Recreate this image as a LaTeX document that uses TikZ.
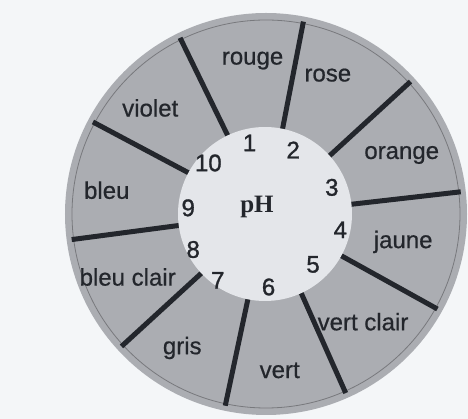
\documentclass[tikz,border=0pt]{standalone}
\usepackage{fontspec}
\setmainfont{Liberation Serif}
\setsansfont{Liberation Sans}
\newfontfamily\numfont[FakeBold=1.2]{Liberation Sans}
\newfontfamily\labfont[FakeBold=0.6]{Liberation Sans}
\usepackage{xcolor}
\usepackage{tikz}
\definecolor{ringgray}{HTML}{ABADB2}
\definecolor{discgray}{HTML}{E4E6EA}
\definecolor{papergray}{HTML}{F4F6F8}
\definecolor{inkdark}{HTML}{23262C}

\begin{document}
\begin{tikzpicture}[x=1pt, y=1pt,
    colour/.style={font=\labfont\fontsize{24}{28}\selectfont, text=inkdark,
                   inner sep=0pt},
    num/.style={font=\numfont\fontsize{24}{28}\selectfont, text=inkdark,
                inner sep=0pt},
    spoke/.style={line width=5pt, inkdark},
]
    \useasboundingbox[fill=papergray] (-266,-205) rectangle (202,214);

    % Ring
    \fill[ringgray] (0,0) circle[radius=201];
    \draw[ringgray!70!black, line width=0.8pt] (0,0) circle[radius=194];

    % Spokes
    \draw[spoke] (79:80) -- (79:196);
    \draw[spoke] (42.5:80) -- (42.5:196);
    \draw[spoke] (6.5:80) -- (6.5:196);
    \draw[spoke] (-29:80) -- (-29:196);
    \draw[spoke] (-66:80) -- (-66:196);
    \draw[spoke] (-102:80) -- (-102:196);
    \draw[spoke] (-137.5:80) -- (-137.5:196);
    \draw[spoke] (-172.5:80) -- (-172.5:196);
    \draw[spoke] (152:80) -- (152:196);
    \draw[spoke] (116:80) -- (116:196);

    % Disc
    \fill[discgray] (-1,0) circle[radius=87];
    \node[font=\rmfamily\bfseries\fontsize{25}{28}\selectfont, text=inkdark,
          inner sep=0pt] (ph) at (-9,7) {pH};

    % Colours
    \node[colour] (c1) at (95:154) {rouge};
    \node[colour] (c2) at (66:152) {rose};
    \node[colour] (c3) at (23.5:148) {orange};
    \node[colour] (c4) at (-11.5:140) {jaune};
    \node[colour] (c5) at (-48:145) {vert clair};
    \node[colour] (c6) at (-85:157) {vert};
    \node[colour] (c7) at (-122:158) {gris};
    \node[colour] (c8) at (204.5:152) {bleu clair};
    \node[colour] (c9) at (171.5:161) {bleu};
    \node[colour] (c10) at (137.5:157) {violet};

    % pH values
    \node[num] (n1) at (103:73) {1};
    \node[num] (n2) at (67:69.5) {2};
    \node[num] (n3) at (22:71) {3};
    \node[num] (n4) at (-12:76) {4};
    \node[num] (n5) at (-47:69) {5};
    \node[num] (n6) at (-88:73) {6};
    \node[num] (n7) at (-126:82) {7};
    \node[num] (n8) at (206:81) {8};
    \node[num] (n9) at (175.5:78) {9};
    \node[num] (n10) at (138.5:77) {10};
\end{tikzpicture}
\end{document}
